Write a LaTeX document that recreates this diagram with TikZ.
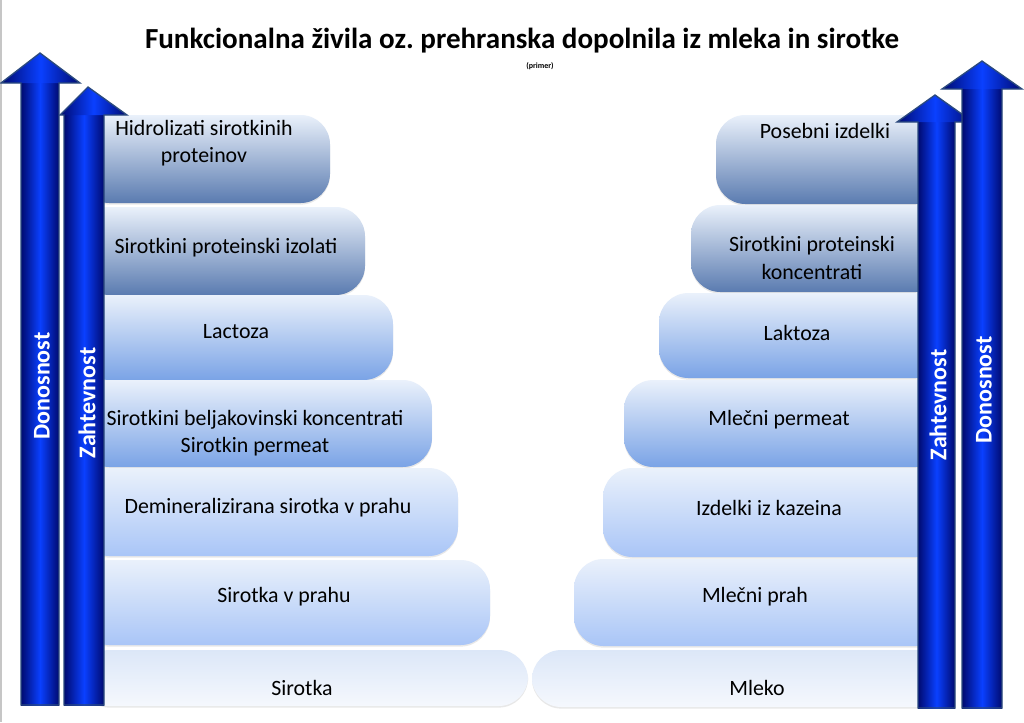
\documentclass[tikz,border=0pt]{standalone}
\usepackage{fontspec}
\usepackage{xcolor}
\usepackage{tikz}
\usetikzlibrary{shadows}
\setmainfont{Carlito}
\frenchspacing
\definecolor{boxtop}{HTML}{EAF1FB}
\definecolor{boxdarkblue}{HTML}{5A7BB0}
\definecolor{boxmidblue}{HTML}{7AA3E6}
\definecolor{boxlightblue}{HTML}{A9C5F7}
\definecolor{basetop}{HTML}{DCE7F8}
\definecolor{basebottom}{HTML}{F5F8FD}
\definecolor{arrownavy}{HTML}{000A70}
\definecolor{arrowblue}{HTML}{0A40FF}
\definecolor{arrowedge}{HTML}{2B4A7E}

\begin{document}
\begin{tikzpicture}[x=0.75pt, y=-0.75pt,
    boxdark/.style={top color=boxtop, bottom color=boxdarkblue, rounded corners=22},
    boxmid/.style={top color=boxtop, bottom color=boxmidblue, rounded corners=22},
    boxlight/.style={top color=boxtop, bottom color=boxlightblue, rounded corners=22},
    boxbase/.style={top color=basetop, bottom color=basebottom, rounded corners=22},
    boxshadow/.style={drop shadow={opacity=0.18, shadow xshift=0pt, shadow yshift=-1.2pt}},
    label/.style={font=\fontsize{16.4}{20.3}\selectfont, text=black, align=center, inner sep=0pt},
    shaft/.style={left color=arrownavy, right color=arrownavy, middle color=arrowblue},
    arrowline/.style={draw=arrowedge, line width=1pt, line join=miter},
    arrowtext/.style={font=\fontsize{18}{20}\bfseries\selectfont, text=white, rotate=90, inner sep=0pt}
]
    \useasboundingbox (0,0) rectangle (1024,722);
    \fill[white] (0,0) rectangle (1024,722);
    \draw[gray!45, line width=1.5pt] (1,0) -- (1,722);

    % Title
    \node[font=\fontsize{21.8}{26}\bfseries\selectfont] (title) at (522,41) {Funkcionalna živila oz. prehranska dopolnila iz mleka in sirotke};
    \node[font=\fontsize{6}{7}\bfseries\selectfont] (primer) at (540,66) {(primer)};

    % Whey steps
    \foreach \r/\t/\b/\s in {330/115/203/boxdark, 365/207/295/boxdark, 393/295/380/boxmid,
                             432/380/467/boxmid, 458/468/556/boxlight, 490/560/645/boxlight,
                             528/650/706/boxbase}
        \path[\s, boxshadow] (80,\t) rectangle (\r,\b);

    % Milk steps
    \foreach \l/\t/\b/\s in {716/115/204/boxdark, 691/205/292/boxdark, 659/293/378/boxmid,
                             624/380/467/boxmid, 603/468/557/boxlight, 574/559/646/boxlight,
                             532/650/707/boxbase}
        \path[\s, boxshadow] (\l,\t) rectangle (945,\b);

    % Labels
    \node[label] (hidro) at (204,143) {Hidrolizati sirotkinih\\proteinov};
    \node[label] (izolati) at (226,248) {Sirotkini proteinski izolati};
    \node[label] (lactoza) at (236,332) {Lactoza};
    \node[label] (beljak) at (255,433) {Sirotkini beljakovinski koncentrati\\Sirotkin permeat};
    \node[label] (demin) at (268,508) {Demineralizirana sirotka v prahu};
    \node[label] (sirprah) at (284,597) {Sirotka v prahu};
    \node[label] (sirotka) at (302,688) {Sirotka};

    \node[label] (posebni) at (825,131) {Posebni izdelki};
    \node[label] (konc) at (812,258) {Sirotkini proteinski\\koncentrati};
    \node[label] (laktoza) at (797,333) {Laktoza};
    \node[label] (permeat) at (779,420) {Mlečni permeat};
    \node[label] (kazein) at (769,508) {Izdelki iz kazeina};
    \node[label] (mlprah) at (755,597) {Mlečni prah};
    \node[label] (mleko) at (757,688) {Mleko};

    % Left arrows
    \path[shaft] (21,83) rectangle (59,705);
    \path[shaft] (1,83) -- (40,53) -- (80,83) -- cycle;
    \draw[arrowline] (21,705) -- (21,83) -- (1,83) -- (40,53) -- (80,83) -- (59,83) -- (59,705) -- cycle;
    \node[arrowtext] (donL) at (42,386) {Donosnost};

    \path[shaft] (64,115) rectangle (104,705);
    \path[shaft] (60,115) -- (88,87) -- (127,115) -- cycle;
    \draw[arrowline] (64,705) -- (64,115) -- (60,115) -- (88,87) -- (127,115) -- (104,115) -- (104,705) -- cycle;
    \node[arrowtext] (zahL) at (87,403) {Zahtevnost};

    % Right arrows
    \path[shaft] (918,122) rectangle (955,708);
    \path[shaft] (897,122) -- (935,95) -- (973,122) -- cycle;
    \draw[arrowline] (918,708) -- (918,122) -- (897,122) -- (935,95) -- (973,122) -- (955,122) -- (955,708) -- cycle;
    \node[arrowtext] (zahR) at (938,405) {Zahtevnost};

    \path[shaft] (962,89) rectangle (1002,708);
    \path[shaft] (942,89) -- (982,61) -- (1022,89) -- cycle;
    \draw[arrowline] (962,708) -- (962,89) -- (942,89) -- (982,61) -- (1022,89) -- (1002,89) -- (1002,708) -- cycle;
    \node[arrowtext] (donR) at (984,390) {Donosnost};
\end{tikzpicture}
\end{document}
